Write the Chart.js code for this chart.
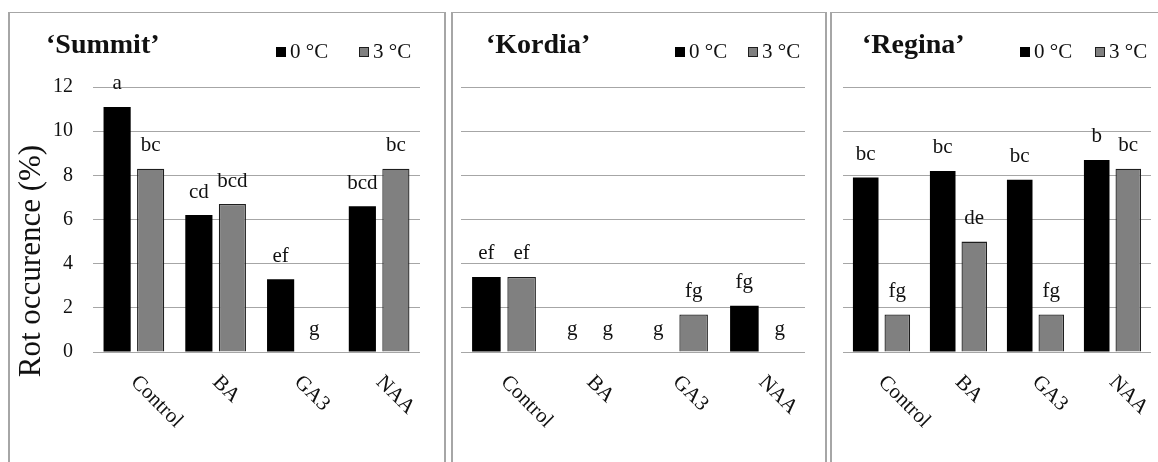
<!DOCTYPE html>
<html>
<head>
<meta charset="utf-8">
<script src="https://cdn.jsdelivr.net/npm/chart.js@4.4.1/dist/chart.umd.min.js"></script>
<style>
  html, body { margin: 0; padding: 0; background: #ffffff; }
  #page { position: relative; width: 1158px; height: 462px; overflow: hidden; background: #ffffff; }
  .frame { position: absolute; top: 12px; height: 460px; box-sizing: border-box;
           border-top: 1px solid #a6a6a6; border-left: 2px solid #a6a6a6; border-right: 2px solid #a6a6a6; }
  canvas { position: absolute; top: 0; }
</style>
</head>
<body>
<div id="page">
  <div class="frame" style="left:8px;width:438px;"></div>
  <div class="frame" style="left:451px;width:376px;"></div>
  <div class="frame" style="left:830px;width:340px;"></div>
  <canvas id="c1" width="433" height="462" style="left:10px;"></canvas>
  <canvas id="c2" width="371" height="462" style="left:453px;"></canvas>
  <canvas id="c3" width="326" height="462" style="left:832px;"></canvas>
</div>
<script>
// Rot occurrence (%) after storage at two temperatures, per growth-regulator treatment
const treatments = ['Control', 'BA', 'GA3', 'NAA'];
const seriesLabels = ['0 °C', '3 °C'];
const yTicks = [0, 2, 4, 6, 8, 10, 12];

const summit0 = [11.1, 6.2, 3.3, 6.6];
const summit3 = [8.3, 6.7, 0, 8.3];
const summit0Letters = ['a', 'cd', 'ef', 'bcd'];
const summit3Letters = ['bc', 'bcd', 'g', 'bc'];

const kordia0 = [3.4, 0, 0, 2.1];
const kordia3 = [3.4, 0, 1.7, 0];
const kordia0Letters = ['ef', 'g', 'g', 'fg'];
const kordia3Letters = ['ef', 'g', 'fg', 'g'];

const regina0 = [7.9, 8.2, 7.8, 8.7];
const regina3 = [1.7, 5.0, 1.7, 8.3];
const regina0Letters = ['bc', 'bc', 'bc', 'b'];
const regina3Letters = ['fg', 'de', 'fg', 'bc'];

const SERIF = "'Liberation Serif', 'Times New Roman', serif";
const INK = '#111111';
const GRID = '#a6a6a6';
const FILL0 = '#000000';
const FILL3 = '#808080';

// Draws cultivar title, legend, letter labels and slanted category labels
const decorations = {
  id: 'decorations',
  afterDatasetsDraw(chart, args, o) {
    const ctx = chart.ctx;
    ctx.save();
    ctx.fillStyle = INK;

    // significance letters above each bar
    ctx.font = '21px ' + SERIF;
    ctx.textAlign = 'center';
    ctx.textBaseline = 'middle';
    chart.data.datasets.forEach((ds, i) => {
      chart.getDatasetMeta(i).data.forEach((bar, j) => {
        ctx.fillText(ds.letters[j], bar.x, bar.y - 23);
      });
    });

    // category labels, slanted downwards
    const xs = chart.scales.x;
    ctx.textAlign = 'left';
    chart.data.labels.forEach((lab, j) => {
      const x = xs.getPixelForValue(j);
      ctx.save();
      ctx.translate(x, xs.top + 27);
      ctx.rotate(Math.PI / 4);
      ctx.fillText(lab, 0, 0);
      ctx.restore();
    });

    // cultivar title
    ctx.font = 'bold 28px ' + SERIF;
    ctx.textBaseline = 'alphabetic';
    ctx.fillText(o.title, o.titleX, 53);

    // legend
    ctx.font = '21px ' + SERIF;
    chart.data.datasets.forEach((ds, i) => {
      const x = o.legendX[i];
      ctx.fillStyle = ds.backgroundColor;
      ctx.fillRect(x, 47, 10, 10);
      if (ds.borderWidth) {
        ctx.strokeStyle = ds.borderColor;
        ctx.lineWidth = 1;
        ctx.strokeRect(x + 0.5, 47.5, 9, 9);
      }
      ctx.fillStyle = INK;
      ctx.fillText(ds.label, x + 14, 58);
    });

    // value axis title
    if (o.yTitle) {
      ctx.save();
      ctx.translate(o.yTitleX, 261);
      ctx.rotate(-Math.PI / 2);
      ctx.font = '31px ' + SERIF;
      ctx.textAlign = 'center';
      ctx.textBaseline = 'middle';
      ctx.fillText(o.yTitle, 0, 0);
      ctx.restore();
    }
    ctx.restore();
  }
};

function makePanel(id, title, v0, v3, l0, l3, geo) {
  new Chart(document.getElementById(id), {
    type: 'bar',
    data: {
      labels: treatments,
      datasets: [
        { label: seriesLabels[0], data: v0, letters: l0,
          backgroundColor: FILL0, borderColor: FILL0, borderWidth: 0 },
        { label: seriesLabels[1], data: v3, letters: l3,
          backgroundColor: FILL3, borderColor: '#1e1e1e', borderWidth: 1.3 }
      ]
    },
    options: {
      responsive: false,
      animation: false,
      devicePixelRatio: 1,
      categoryPercentage: 0.82,
      barPercentage: 0.81,
      layout: { padding: { top: 87, right: geo.right, bottom: 0, left: 0 } },
      plugins: {
        legend: { display: false },
        tooltip: { enabled: false },
        decorations: { title: title, titleX: geo.titleX, legendX: geo.legendX,
                       yTitle: geo.yTitle, yTitleX: geo.yTitleX }
      },
      scales: {
        x: {
          grid: { display: false },
          border: { display: false },
          ticks: { display: false },
          afterFit: s => { s.height = 110; }
        },
        y: {
          min: yTicks[0],
          max: yTicks[yTicks.length - 1],
          afterBuildTicks: s => { s.ticks = yTicks.map(v => ({ value: v })); },
          grid: { color: GRID, lineWidth: 1, drawTicks: false },
          border: { display: false },
          ticks: {
            display: geo.showTicks,
            padding: 20,
            color: INK,
            font: { family: SERIF, size: 20 }
          },
          afterFit: s => { s.width = geo.left; }
        }
      }
    },
    plugins: [decorations]
  });
}

makePanel('c1', '‘Summit’', summit0, summit3, summit0Letters, summit3Letters,
  { left: 83, right: 23, titleX: 36, legendX: [266, 349], showTicks: true,
    yTitle: 'Rot occurence (%)', yTitleX: 22 });
makePanel('c2', '‘Kordia’', kordia0, kordia3, kordia0Letters, kordia3Letters,
  { left: 8, right: 19, titleX: 33, legendX: [222, 295], showTicks: false });
makePanel('c3', '‘Regina’', regina0, regina3, regina0Letters, regina3Letters,
  { left: 11, right: 7, titleX: 30, legendX: [188, 263], showTicks: false });
</script>
</body>
</html>
